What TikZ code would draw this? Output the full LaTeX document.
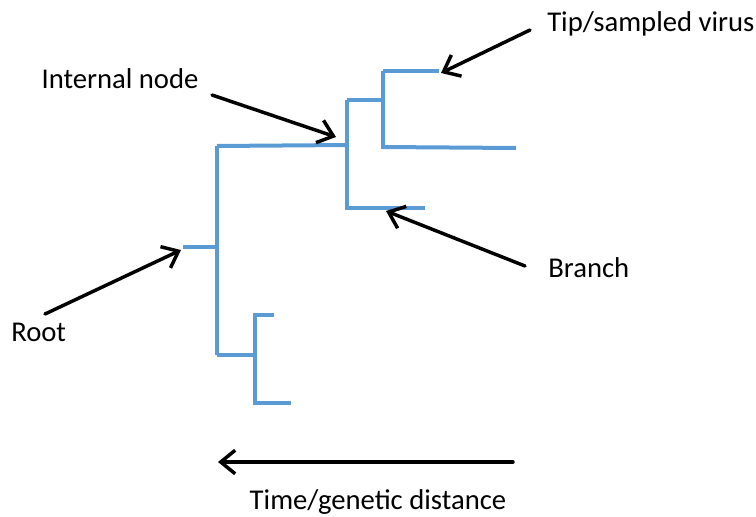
\documentclass[tikz,border=0pt]{standalone}
\usepackage{fontspec}
\setmainfont{Carlito}
\usetikzlibrary{arrows.meta}
\definecolor{treeblue}{RGB}{91,155,213}
\tikzset{
  branch/.style={draw=treeblue,line width=3pt},
  pointer/.style={draw=black,line width=2.6pt,line cap=round,-{Straight Barb[length=3.8mm,width=6.2mm,line width=2.6pt]}},
  lbl/.style={font=\fontsize{21.5}{25}\selectfont,inner sep=0pt}
}

\begin{document}
\begin{tikzpicture}[x=0.75pt,y=-0.75pt]
  \useasboundingbox (0,0) rectangle (756,517);
  % tree
  \coordinate (rootend) at (183,247);
  \coordinate (rootnode) at (217,247);
  \coordinate (inner) at (347,145);
  \coordinate (tipnode) at (383,100);
  \coordinate (tiptop) at (439,71);
  \coordinate (branchend) at (425,208);
  \coordinate (lownode) at (255,355);
  \draw[branch] (rootend) -- (rootnode);
  \draw[branch] (217,146) -- (217,355);
  \draw[branch] (217,146) -- (inner);
  \draw[branch] (347,100) -- (347,208) -- (branchend);
  \draw[branch] (347,100) -- (tipnode);
  \draw[branch] (383,71) -- (383,147) -- (516,148);
  \draw[branch] (383,71) -- (tiptop);
  \draw[branch] (217,355) -- (lownode);
  \draw[branch] (274,315) -- (255,315) -- (255,403) -- (291,403);
  % labels
  \node[lbl,anchor=west] (tip) at (547,24) {Tip/sampled virus};
  \node[lbl] (internal) at (120,79) {Internal node};
  \node[lbl,anchor=west] (branchlbl) at (548,268) {Branch};
  \node[lbl,anchor=west] (root) at (11,332) {Root};
  \node[lbl] (timelbl) at (378,502) {Time/genetic distance};
  % arrows
  \coordinate (tipstart) at (530,30);
  \coordinate (intstart) at (212,95);
  \coordinate (branchstart) at (525,266);
  \coordinate (rootstart) at (45,314);
  \coordinate (timestart) at (513,462);
  \coordinate (timeend) at (218,462);
  \draw[pointer] (tipstart) -- (441,73);
  \draw[pointer] (intstart) -- (336,137);
  \draw[pointer] (branchstart) -- (386,211);
  \draw[pointer] (rootstart) -- (181,250);
  \draw[pointer] (timestart) -- (timeend);
\end{tikzpicture}
\end{document}
